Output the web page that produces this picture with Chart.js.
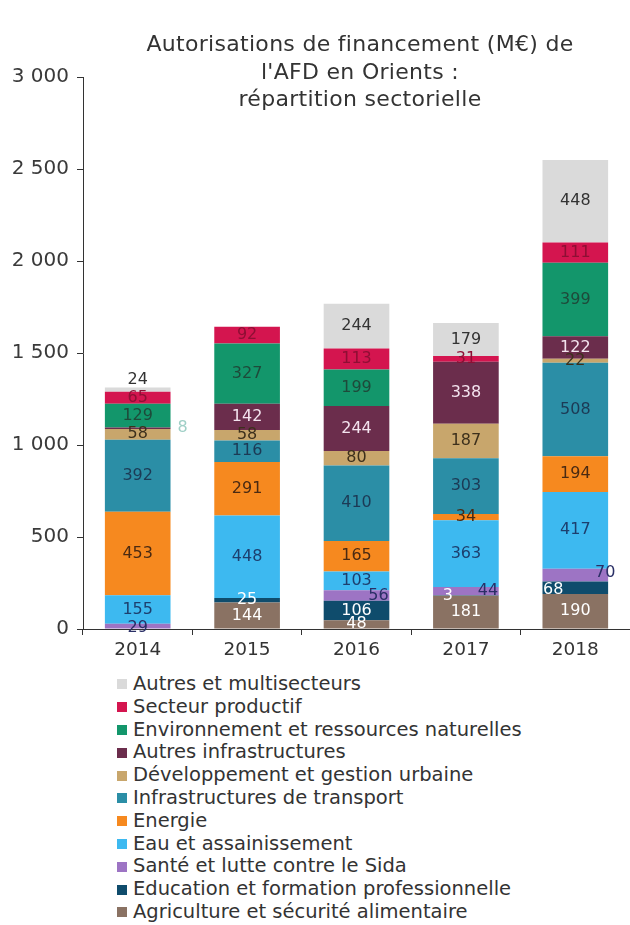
<!DOCTYPE html>
<html lang="fr">
<head>
<meta charset="utf-8">
<script src="https://cdn.jsdelivr.net/npm/chart.js@4.4.0/dist/chart.umd.min.js"></script>
<style>
  html, body { margin: 0; padding: 0; background: #ffffff; }
  #wrap { position: relative; width: 630px; height: 925px; font-family: "DejaVu Sans", sans-serif; color: #333; }
  #c { position: absolute; left: 0; top: 0; }
  #title { position: absolute; left: 110px; width: 500px; top: 30px; text-align: center; font-size: 22px; letter-spacing: 0.3px; line-height: 27.5px; color: #333; pointer-events: none; }
  #legend { position: absolute; left: 117px; top: 673px; font-size: 19.5px; line-height: 22.8px; color: #333; }
  #legend .it { display: flex; align-items: center; white-space: nowrap; }
  #legend .sw { width: 10px; height: 10px; margin-right: 6px; flex: none; }
</style>
</head>
<body>
<div id="wrap">
  <canvas id="c" width="630" height="670"></canvas>
  <div id="title">Autorisations de financement (M€) de<br>l'AFD en Orients :<br>répartition sectorielle</div>
  <div id="legend"></div>
</div>
<script>
// ---- DATA ----
const categories = ["2014", "2015", "2016", "2017", "2018"];
const yTicks = [0, 500, 1000, 1500, 2000, 2500, 3000];
const seriesNames = [
  "Agriculture et sécurité alimentaire",
  "Education et formation professionnelle",
  "Santé et lutte contre le Sida",
  "Eau et assainissement",
  "Energie",
  "Infrastructures de transport",
  "Développement et gestion urbaine",
  "Autres infrastructures",
  "Environnement et ressources naturelles",
  "Secteur productif",
  "Autres et multisecteurs"
];
const agriculture   = [null, 144, 48, 181, 190];
const education     = [null, 25, 106, 3, 68];
const sante         = [29, null, 56, 44, 70];
const eau           = [155, 448, 103, 363, 417];
const energie       = [453, 291, 165, 34, 194];
const transport     = [392, 116, 410, 303, 508];
const urbain        = [58, 58, 80, 187, 22];
const autresInfra   = [8, 142, 244, 338, 122];
const environnement = [129, 327, 199, null, 399];
const secteurProd   = [65, 92, 113, 31, 111];
const autres        = [24, null, 244, 179, 448];

// ---- STYLES ----
const seriesValues = [agriculture, education, sante, eau, energie, transport, urbain, autresInfra, environnement, secteurProd, autres];
const colors = ["#8a7263", "#0f4c6c", "#9d74c4", "#3db9f0", "#f6891f", "#2b8ea6", "#c8a66c", "#6b2d4c", "#13966b", "#d4154f", "#dadada"];
const labelColors = ["#ffffff", "#ffffff", "#2a2f66", "#1d3f6e", "#4a2a12", "#1c3a55", "#3d301c", "#f3e3ee", "#1e4a3a", "#8e0f34", "#333333"];
// label offsets [dx, dy] keyed "dataset-index,point-index"
const labelOffsets = {
  "7,0": [45, 0], "2,0": [0, 2], "10,0": [0, -10],
  "2,2": [22, 0],
  "1,3": [-18, 0], "2,3": [22, 0],
  "1,4": [-22, 2], "2,4": [30, -2]
};
const labelColorOverrides = { "7,0": "#9fcfc6" };

const datasets = seriesNames.map((n, i) => ({
  label: n,
  data: seriesValues[i],
  backgroundColor: colors[i],
  borderWidth: 0,
  barPercentage: 0.6,
  categoryPercentage: 1.0
}));

const fmt = v => String(v).replace(/\B(?=(\d{3})+(?!\d))/g, " ");

const segLabels = {
  id: "segLabels",
  afterDatasetsDraw(chart) {
    const ctx = chart.ctx;
    ctx.save();
    ctx.font = "16px 'DejaVu Sans', sans-serif";
    ctx.textAlign = "center";
    ctx.textBaseline = "middle";
    chart.data.datasets.forEach((ds, di) => {
      const meta = chart.getDatasetMeta(di);
      meta.data.forEach((el, pi) => {
        const v = ds.data[pi];
        if (v === null || v === undefined) return;
        const key = di + "," + pi;
        const off = labelOffsets[key] || [0, 0];
        const y = (el.y + el.base) / 2 + off[1];
        ctx.fillStyle = labelColorOverrides[key] || labelColors[di];
        ctx.fillText(String(v), el.x + off[0], y);
      });
    });
    ctx.restore();
  }
};

new Chart(document.getElementById("c"), {
  type: "bar",
  data: { labels: categories, datasets },
  options: {
    responsive: false,
    animation: false,
    layout: { padding: { top: 77, right: 0, bottom: 0, left: 0 } },
    plugins: { legend: { display: false }, title: { display: false }, tooltip: { enabled: false } },
    scales: {
      x: {
        stacked: true,
        grid: { display: true, drawOnChartArea: false, drawTicks: true, tickLength: 6, color: "#333", offset: true },
        border: { display: true, color: "#333", width: 1 },
        ticks: { color: "#333", font: { family: "DejaVu Sans", size: 18.5 }, padding: 4 },
        afterFit(s) { s.height = 41; }
      },
      y: {
        stacked: true,
        min: 0, max: 3000,
        afterBuildTicks(s) { s.ticks = yTicks.map(v => ({ value: v })); },
        grid: { display: true, drawOnChartArea: false, drawTicks: true, tickLength: 6, color: "#333" },
        border: { display: true, color: "#333", width: 1 },
        ticks: { color: "#3a3a3a", font: { family: "DejaVu Sans", size: 20 }, padding: 8, callback: v => fmt(v) },
        afterFit(s) { s.width = 83; }
      }
    }
  },
  plugins: [segLabels]
});

// HTML legend (reverse order, one per line)
const lg = document.getElementById("legend");
for (let i = seriesNames.length - 1; i >= 0; i--) {
  const it = document.createElement("div");
  it.className = "it";
  const sw = document.createElement("span");
  sw.className = "sw";
  sw.style.background = colors[i];
  const tx = document.createElement("span");
  tx.textContent = seriesNames[i];
  it.appendChild(sw); it.appendChild(tx);
  lg.appendChild(it);
}
</script>
</body>
</html>
